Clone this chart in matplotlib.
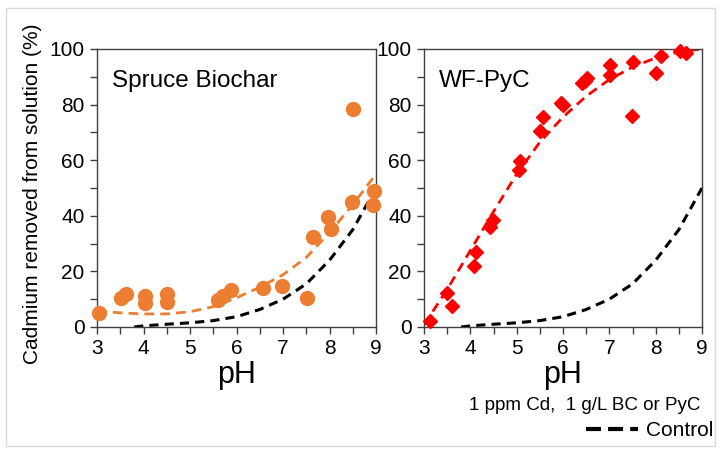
import matplotlib.pyplot as plt
from matplotlib.lines import Line2D
from matplotlib.patches import Rectangle
from matplotlib.ticker import MultipleLocator

# Fonts
plt.rcParams['font.family'] = ['Liberation Sans', 'DejaVu Sans']

# Spruce biochar data (pH, % Cd removed)
bc_ph = [3.05, 3.52, 3.62, 4.03, 4.03, 4.51, 4.51, 5.60, 5.70, 5.89,
         6.57, 6.98, 7.51, 7.65, 7.96, 8.03, 8.48, 8.51, 8.96, 8.93]
bc_cd = [5.0, 10.6, 11.8, 11.3, 8.6, 12.0, 8.9, 9.8, 11.1, 13.2,
         14.2, 14.7, 10.5, 32.4, 39.4, 35.2, 44.8, 78.4, 48.9, 43.8]

# WF-PyC data
pyc_ph = [3.13, 3.49, 3.60, 4.12, 4.08, 4.42, 4.49, 5.07, 5.06, 5.50,
          5.57, 5.95, 6.00, 6.40, 6.48, 6.51, 7.01, 7.01, 7.48, 7.50,
          8.00, 8.12, 8.52, 8.66]
pyc_cd = [2.2, 12.4, 7.5, 26.8, 22.0, 35.8, 38.4, 59.8, 56.4, 70.5,
          75.4, 80.4, 79.8, 87.6, 88.6, 89.4, 94.1, 90.7, 75.9, 95.2,
          91.3, 97.6, 99.2, 98.6]

# Trend lines
fit_ph = [3.0, 3.5, 4.0, 4.5, 5.0, 5.5, 6.0, 6.5, 7.0, 7.5, 8.0, 8.5, 9.0]
bc_fit = [5.8, 5.1, 4.7, 4.7, 5.5, 7.3, 10.5, 14.3, 18.8, 25.0, 34.0, 44.0, 55.0]
pyc_fit = [0.8, 13.5, 27.5, 41.5, 55.0, 66.5, 75.5, 83.0, 89.0, 93.5, 96.8, 99.0, 100.0]

ctrl_ph = [3.8, 4.0, 4.5, 5.0, 5.5, 6.0, 6.5, 7.0, 7.5, 8.0, 8.5, 9.0]
ctrl_cd = [0.0, 0.4, 1.0, 1.5, 2.3, 3.7, 6.3, 10.0, 15.5, 24.0, 35.0, 50.0]

orange = '#ED7D31'
red = '#FF0000'
spine_col = '#404040'

fig = plt.figure(figsize=(7.21, 4.53), dpi=100)
fig.patches.append(Rectangle((6 / 721, 1 - 446 / 453), 709 / 721, 438 / 453,
                             transform=fig.transFigure, fill=False,
                             edgecolor='#D9D9D9', lw=1))

ax1 = fig.add_axes([97 / 721, 126 / 453, 279 / 721, 278 / 453])
ax2 = fig.add_axes([424 / 721, 126 / 453, 278 / 721, 278 / 453])

ax1.plot(ctrl_ph, ctrl_cd, color='black', lw=2.2, dashes=(3, 2))
ax1.plot(fit_ph, bc_fit, color=orange, lw=2, dashes=(3.5, 2.2))
ax1.plot(bc_ph, bc_cd, 'o', color=orange, ms=10, clip_on=False, zorder=5)

ax2.plot(ctrl_ph, ctrl_cd, color='black', lw=2.2, dashes=(3, 2))
ax2.plot(fit_ph, pyc_fit, color=red, lw=2, dashes=(3.5, 2.2))
ax2.plot(pyc_ph, pyc_cd, 'D', color=red, ms=7.5, clip_on=False, zorder=5)

for ax, title in [(ax1, 'Spruce Biochar'), (ax2, 'WF-PyC')]:
    ax.set_xlim(3, 9)
    ax.set_ylim(0, 100)
    ax.xaxis.set_major_locator(MultipleLocator(1))
    ax.xaxis.set_minor_locator(MultipleLocator(0.5))
    ax.yaxis.set_major_locator(MultipleLocator(20))
    ax.yaxis.set_minor_locator(MultipleLocator(10))
    ax.tick_params(which='both', direction='out', length=5, width=1,
                   color=spine_col, labelsize=15, pad=4)
    for s in ax.spines.values():
        s.set_color(spine_col)
        s.set_linewidth(1)
    ax.text(0.055, 0.865, title, transform=ax.transAxes, fontsize=17.5)
    ax.set_xlabel('pH', fontsize=22, labelpad=1)

fig.text(33 / 721, 1 - 194 / 453, 'Cadmium removed from solution (%)',
         rotation=90, ha='center', va='center', fontsize=15)

fig.text(700 / 721, 1 - 405 / 453, '1 ppm Cd,  1 g/L BC or PyC',
         ha='right', va='center', fontsize=13.5)

handle = Line2D([], [], color='black', lw=3, dashes=(3.6, 1.7))
fig.legend(handles=[handle], labels=['Control'], loc='center right',
           bbox_to_anchor=(713 / 721, 1 - 431 / 453), frameon=False,
           fontsize=15, handlelength=2.5, handletextpad=0.35,
           borderaxespad=0, borderpad=0)

fig.savefig('out.png', dpi=100)
